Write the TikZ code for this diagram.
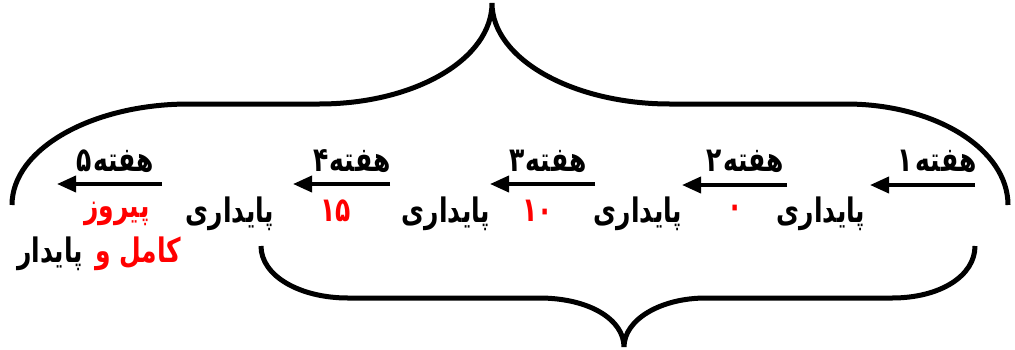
\documentclass[tikz,border=0pt]{standalone}
\usepackage{fontspec}
\usepackage{graphicx}
\usetikzlibrary{arrows.meta}
\TeXXeTstate=1
\newfontfamily\fa[Script=Arabic]{DejaVu Sans}
\newcommand{\talltxt}[1]{\scalebox{1}[1.35]{#1}}
\definecolor{pred}{RGB}{255,0,0}
\tikzset{
  brace/.style={line width=5pt, line cap=butt},
  wk/.style={font=\fa\bfseries\fontsize{25}{28}\selectfont, inner sep=0pt},
  word/.style={font=\fa\bfseries\fontsize{25}{28}\selectfont, inner sep=0pt},
  num/.style={font=\fa\bfseries\fontsize{25}{28}\selectfont, inner sep=0pt, text=pred},
  arr/.style={line width=3.8pt, -{Triangle[length=19pt,width=16pt]}}
}
\begin{document}
\begin{tikzpicture}[x=1pt,y=-1pt]
\useasboundingbox (0,0) rectangle (1015,349);
% top brace
\coordinate (tl) at (12,205);
\coordinate (tc) at (492,3);
\coordinate (tr) at (1008,205);
\draw[brace] (tl) .. controls (12,149) and (92,104) .. (189,104) -- (319,104)
  .. controls (415,104) and (492,59) .. (tc)
  .. controls (492,59) and (573,104) .. (670,104) -- (846,104)
  .. controls (935,104) and (1008,149) .. (tr);
% bottom brace
\coordinate (bl) at (261,246);
\coordinate (bc) at (624,347);
\coordinate (br) at (975,246);
\draw[brace] (bl) .. controls (261,276) and (300,298) .. (348,298) -- (539,298)
  .. controls (590,298) and (624,320) .. (bc)
  .. controls (624,320) and (660,298) .. (706,298) -- (892,298)
  .. controls (940,298) and (975,276) .. (br);
% week headers
\node[wk] (h1) at (937,161) {\talltxt{\beginR هفته\kern3pt۱\endR}};
\node[wk] (h2) at (745,161) {\talltxt{\beginR هفته\kern2pt۲\endR}};
\node[wk] (h3) at (548,161) {\talltxt{\beginR هفته\kern1pt۳\endR}};
\node[wk] (h4) at (352,161) {\talltxt{\beginR هفته\kern1pt۴\endR}};
\node[wk] (h5) at (115,161) {\talltxt{\beginR هفته\kern2pt۵\endR}};
% arrows
\coordinate (a1s) at (975,185); \coordinate (a1e) at (870,185);
\coordinate (a2s) at (787,185); \coordinate (a2e) at (682,185);
\coordinate (a3s) at (595,184); \coordinate (a3e) at (490,184);
\coordinate (a4s) at (390,184); \coordinate (a4e) at (293,184);
\coordinate (a5s) at (162,184); \coordinate (a5e) at (57,184);
\draw[arr] (a1s) -- (a1e);
\draw[arr] (a2s) -- (a2e);
\draw[arr] (a3s) -- (a3e);
\draw[arr] (a4s) -- (a4e);
\draw[arr] (a5s) -- (a5e);
% words
\node[word] (p1) at (821,214) {\talltxt{\beginR پایداری\endR}};
\node[num] (n0) at (735,211) {\talltxt{۰}};
\node[word] (p2) at (638,214) {\talltxt{\beginR پایداری\endR}};
\node[num] (n10) at (538,211) {\talltxt{۱۰}};
\node[word] (p3) at (446,214) {\talltxt{\beginR پایداری\endR}};
\node[num] (n15) at (336,211) {\talltxt{۱۵}};
\node[word] (p4) at (230,214) {\talltxt{\beginR پایداری\endR}};
\node[num] (pz) at (117,214) {\talltxt{\beginR پیروز\endR}};
\node[num] (km) at (138,254) {\talltxt{\beginR کامل و\endR}};
\node[word] (pd) at (50,254) {\talltxt{\beginR پایدار\endR}};
\end{tikzpicture}
\end{document}
